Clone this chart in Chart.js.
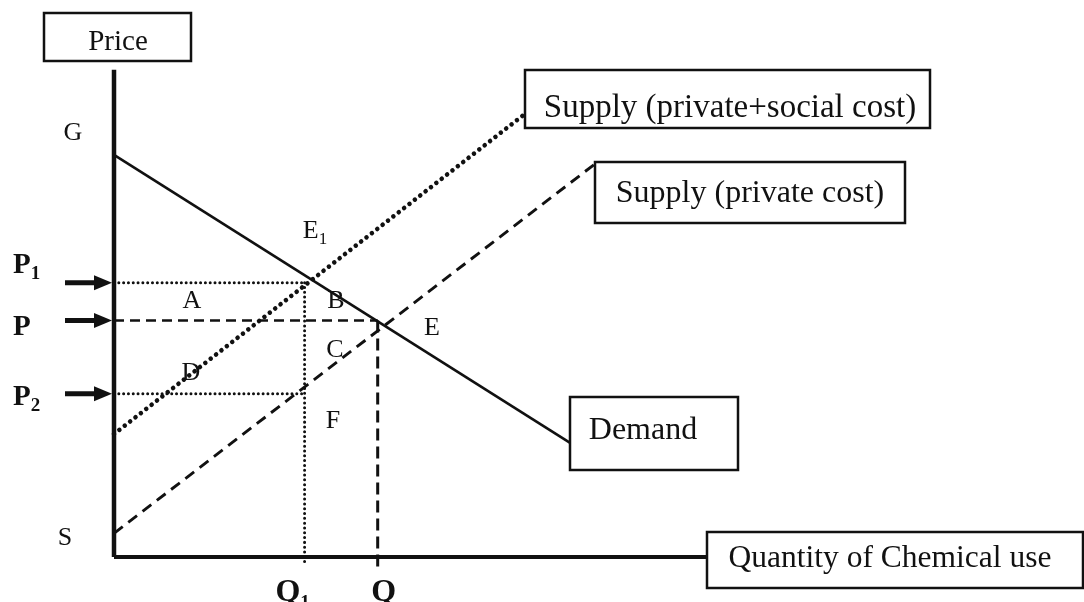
<!DOCTYPE html>
<html>
<head>
<meta charset="utf-8">
<script src="https://cdn.jsdelivr.net/npm/chart.js@4.4.1/dist/chart.umd.min.js"></script>
<style>
  html, body { margin: 0; padding: 0; background: #fff; }
  #wrap { width: 1084px; height: 602px; position: relative; }
</style>
</head>
<body>
<div id="wrap"><canvas id="chart"></canvas></div>
<script>
// curve end points, quantity / price
const demandQ = [0, 175];
const demandP = [170, 48];
const socialSupplyQ = [0, 157];
const socialSupplyP = [52, 187];
const privateSupplyQ = [0, 184];
const privateSupplyP = [10, 166];

// P1, P, P2 and Q1, Q
const priceNames = ['P', 'P', 'P'];
const priceSubs = ['1', '', '2'];
const priceLevels = [116, 100, 69];
const quantityNames = ['Q', 'Q'];
const quantitySubs = ['1', ''];
const quantityLevels = [73, 101];
const quantityDrop = [-3.5, -6.5];

// axes
const axisQ = [0, 227];
const axisP = [0, 206];

const INK = '#111';
const SERIF = '"Liberation Serif", "Times New Roman", serif';

function seg(q, p) {
    return q.map((v, i) => ({ x: v, y: p[i] }));
}

function lineSet(data, width, dash) {
    return {
        data: data,
        showLine: true,
        borderColor: INK,
        borderWidth: width,
        borderDash: dash || [],
        borderCapStyle: dash && dash[0] < 1 ? 'round' : 'butt',
        pointRadius: 0,
        fill: false,
        clip: false,
        tension: 0
    };
}

const dotted = [0.01, 4.8];
const datasets = [
    // guide lines
    lineSet(seg([0, quantityLevels[0]], [priceLevels[0], priceLevels[0]]), 3, dotted),
    lineSet(seg([0, quantityLevels[1]], [priceLevels[1], priceLevels[1]]), 2.7, [10, 6]),
    lineSet(seg([0, quantityLevels[0]], [priceLevels[2], priceLevels[2]]), 3, dotted),
    lineSet(seg([quantityLevels[0], quantityLevels[0]], [priceLevels[0], quantityDrop[0]]), 3, dotted),
    lineSet(seg([quantityLevels[1], quantityLevels[1]], [priceLevels[1], quantityDrop[1]]), 3, [12, 6]),
    // curves
    lineSet(seg(demandQ, demandP), 2.6),
    lineSet(seg(socialSupplyQ, socialSupplyP), 4.6, [0.01, 6.8]),
    lineSet(seg(privateSupplyQ, privateSupplyP), 2.9, [11, 7]),
    // axes
    lineSet(seg([axisQ[0], axisQ[0]], axisP), 4.5),
    lineSet(seg(axisQ, [axisP[0], axisP[0]]), 4.2)
];

const boxes = [
    { text: 'Price', x: 44, y: 13, w: 147, h: 48, cx: 118, base: 50, size: 29 },
    { text: 'Supply (private+social cost)', x: 525, y: 70, w: 405, h: 58, cx: 730, base: 117, size: 33 },
    { text: 'Supply (private cost)', x: 595, y: 162, w: 310, h: 61, cx: 750, base: 202, size: 32 },
    { text: 'Demand', x: 570, y: 397, w: 168, h: 73, cx: 643, base: 439, size: 32 },
    { text: 'Quantity of Chemical use', x: 707, y: 532, w: 376, h: 56, cx: 890, base: 567, size: 31.5 }
];

const letters = [
    { t: 'G', x: 73, y: 140 },
    { t: 'A', x: 192, y: 308 },
    { t: 'B', x: 336, y: 308 },
    { t: 'E', x: 432, y: 335 },
    { t: 'C', x: 335, y: 357 },
    { t: 'D', x: 191, y: 380 },
    { t: 'F', x: 333, y: 428 },
    { t: 'S', x: 65, y: 545 },
    { t: 'E', sub: '1', x: 315, y: 238 }
];

// baseline of the P labels, P1 sits above its arrow
const priceLabelBase = [273, 335, 405];

function drawSub(ctx, main, sub, x, y, size, subSize, bold, align) {
    const w = bold ? 'bold ' : '';
    ctx.font = w + size + 'px ' + SERIF;
    const mw = ctx.measureText(main).width;
    ctx.font = w + subSize + 'px ' + SERIF;
    const sw = sub ? ctx.measureText(sub).width : 0;
    let left = align === 'left' ? x : x - (mw + sw) / 2;
    ctx.textAlign = 'left';
    ctx.textBaseline = 'alphabetic';
    ctx.font = w + size + 'px ' + SERIF;
    ctx.fillText(main, left, y);
    if (sub) {
        ctx.font = w + subSize + 'px ' + SERIF;
        ctx.fillText(sub, left + mw, y + size * 0.22);
    }
}

const diagramText = {
    id: 'diagramText',
    afterDatasetsDraw(chart) {
        const ctx = chart.ctx;
        const xs = chart.scales.x, ys = chart.scales.y;
        ctx.save();
        ctx.fillStyle = INK;
        ctx.strokeStyle = INK;

        boxes.forEach(b => {
            ctx.lineWidth = 2.5;
            ctx.fillStyle = '#fff';
            ctx.fillRect(b.x, b.y, b.w, b.h);
            ctx.strokeRect(b.x, b.y, b.w, b.h);
            ctx.fillStyle = INK;
            ctx.font = b.size + 'px ' + SERIF;
            ctx.textAlign = 'center';
            ctx.textBaseline = 'alphabetic';
            ctx.fillText(b.text, b.cx, b.base);
        });

        letters.forEach(l => {
            drawSub(ctx, l.t, l.sub, l.x, l.y, 26, 17, false, 'center');
        });

        // arrows and price labels
        const x0 = xs.getPixelForValue(0);
        priceLevels.forEach((p, i) => {
            const y = ys.getPixelForValue(p);
            ctx.lineWidth = 5;
            ctx.beginPath();
            ctx.moveTo(65, y);
            ctx.lineTo(x0 - 16, y);
            ctx.stroke();
            ctx.beginPath();
            ctx.moveTo(x0 - 20, y - 7.5);
            ctx.lineTo(x0 - 2, y);
            ctx.lineTo(x0 - 20, y + 7.5);
            ctx.closePath();
            ctx.fill();
            drawSub(ctx, priceNames[i], priceSubs[i], 13, priceLabelBase[i], 29, 19, true, 'left');
        });

        quantityLevels.forEach((q, i) => {
            const x = xs.getPixelForValue(q);
            drawSub(ctx, quantityNames[i], quantitySubs[i], x - (quantitySubs[i] ? 12 : -6), 601, 32, 19, true, 'center');
        });

        ctx.restore();
    }
};

new Chart(document.getElementById('chart'), {
    type: 'scatter',
    data: { datasets: datasets },
    options: {
        responsive: true,
        maintainAspectRatio: false,
        animation: false,
        events: [],
        layout: { padding: { left: 114, right: 4, top: 13, bottom: 45 } },
        scales: {
            x: { type: 'linear', min: 0, max: 370, display: false },
            y: { type: 'linear', min: 0, max: 230, display: false }
        },
        plugins: {
            legend: { display: false },
            tooltip: { enabled: false }
        }
    },
    plugins: [diagramText]
});
</script>
</body>
</html>
